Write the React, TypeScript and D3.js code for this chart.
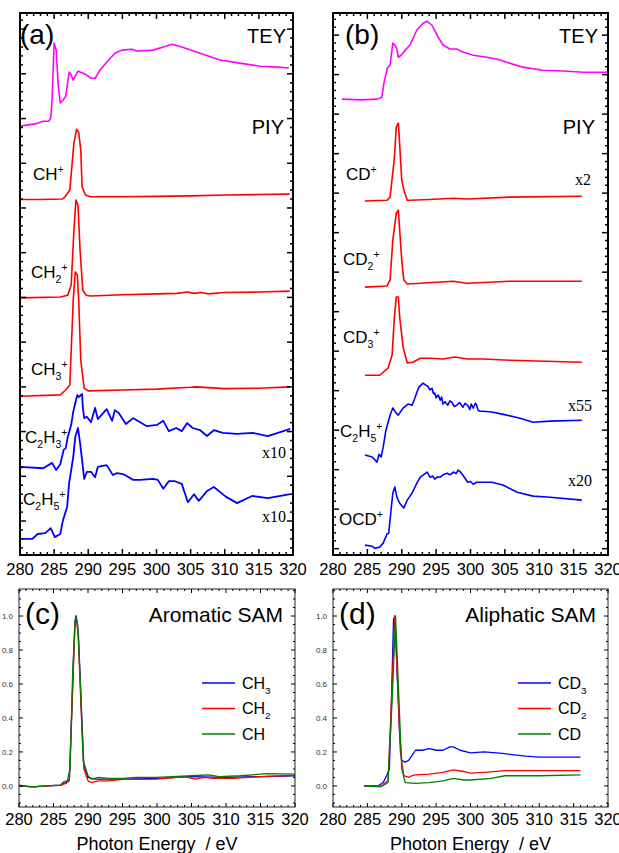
import React from 'react';
import * as d3 from 'd3';

type Pt = [number, number];

// photon energy (eV) vs. stacked intensity (arb. units, offset per trace)
const energyTicks = [280, 285, 290, 295, 300, 305, 310, 315, 320];

// ---- panel (a) ----
const teyA: Pt[] = [
  [280, 8.83], [282.2, 8.88], [283.4, 8.94], [284.2, 8.94], [284.5, 9.01], [284.7, 9.41], [285.0, 10.69],
  [285.3, 10.53], [285.6, 9.75], [285.9, 9.35], [286.3, 9.41], [286.7, 9.5], [287.2, 10.04], [287.5, 9.97],
  [287.8, 9.86], [288.1, 9.95], [288.5, 10.06], [289.2, 10.02], [289.8, 9.97], [290.4, 9.9], [291.0, 9.9],
  [291.7, 10.08], [292.7, 10.26], [293.9, 10.46], [294.9, 10.53], [296.4, 10.55], [297.1, 10.51],
  [299.5, 10.53], [301.0, 10.6], [302.3, 10.66], [303.7, 10.6], [306.4, 10.46], [309.3, 10.31],
  [312.2, 10.24], [315.2, 10.17], [317.7, 10.15], [319.4, 10.13],
];
const chA: Pt[] = [
  [280, 7.19], [283, 7.19], [286.2, 7.2], [286.6, 7.25], [287.3, 7.4], [287.9, 8.45], [288.3, 8.76],
  [288.6, 8.69], [288.9, 8.3], [289.1, 7.47], [289.6, 7.29], [290.3, 7.25], [295, 7.25], [300, 7.26],
  [305, 7.27], [310, 7.29], [315, 7.3], [319.5, 7.31],
];
const ch2A: Pt[] = [
  [280, 4.99], [285.9, 5.01], [287.0, 5.05], [287.5, 5.28], [287.9, 6.5], [288.2, 7.18], [288.5, 7.06],
  [288.8, 6.06], [289.2, 5.16], [289.7, 5.05], [290.3, 5.03], [295, 5.06], [300, 5.08], [303, 5.09],
  [304.5, 5.12], [305.5, 5.09], [306.5, 5.11], [307.5, 5.08], [310, 5.11], [315, 5.12], [319.5, 5.14],
];
const ch3A: Pt[] = [
  [280, 2.79], [285.9, 2.82], [286.7, 2.93], [287.3, 3.04], [287.8, 4.94], [288.1, 5.57], [288.4, 5.5],
  [288.6, 4.94], [288.9, 3.6], [289.4, 2.97], [290.0, 2.91], [295, 2.93], [300, 2.95], [305, 2.99],
  [305.8, 3.0], [310, 2.96], [315, 2.97], [319.5, 3.0],
];
const c2h3A: Pt[] = [
  [280, 1.21], [283.4, 1.18], [284.7, 1.3], [285.3, 1.14], [285.9, 1.27], [286.4, 1.59], [286.7, 1.63],
  [287.0, 1.88], [287.5, 2.15], [287.8, 2.44], [288.1, 2.64], [288.4, 2.82], [288.6, 2.77], [289.1, 2.84],
  [289.2, 2.55], [289.4, 2.3], [289.8, 2.33], [290.4, 2.21], [291.0, 2.53], [291.4, 2.28], [292.7, 2.5],
  [293.5, 2.24], [293.9, 2.48], [294.5, 2.41], [295.5, 2.17], [296.6, 2.3], [298.6, 2.12], [300.1, 2.15],
  [301.0, 2.24], [301.8, 2.01], [302.9, 2.08], [303.7, 2.01], [304.5, 2.19], [305.3, 2.08], [306.4, 2.03],
  [307.4, 1.9], [308.4, 2.03], [309.7, 1.97], [311.8, 1.95], [314.1, 1.97], [316.3, 1.9], [319.6, 2.06],
];
const c2h5A: Pt[] = [
  [280, -0.4], [281.8, -0.4], [282.6, -0.29], [283.7, -0.27], [284.5, -0.16], [285.1, -0.36], [285.9, -0.29],
  [286.3, 0.02], [286.9, 0.31], [287.2, 0.85], [287.8, 1.43], [288.1, 1.88], [288.5, 2.08], [288.8, 1.74],
  [289.1, 1.36], [289.4, 0.94], [289.8, 1.1], [290.4, 1.1], [291.0, 0.98], [291.4, 1.21], [292.7, 1.25],
  [293.6, 1.03], [294.2, 1.07], [295.1, 1.05], [296.6, 0.92], [297.6, 0.92], [299.5, 0.94], [300.2, 0.92],
  [301.0, 0.72], [301.8, 0.89], [302.7, 0.89], [303.7, 0.83], [304.6, 0.42], [305.5, 0.6], [306.2, 0.45],
  [307.4, 0.67], [308.4, 0.76], [310.2, 0.54], [311.8, 0.4], [314.0, 0.56], [316.3, 0.51], [319.6, 0.6],
];

// ---- panel (b) ----
const teyB: Pt[] = [
  [281.3, 10.38], [284, 10.36], [286.4, 10.38], [287.1, 10.43], [287.4, 10.78], [287.9, 11.16], [288.3, 11.24],
  [288.7, 11.8], [289.2, 11.7], [289.5, 11.44], [289.9, 11.49], [290.5, 11.62], [291.2, 11.75], [292.2, 12.13],
  [293.1, 12.3], [293.7, 12.35], [294.4, 12.25], [295.3, 11.95], [296.0, 11.75], [297.0, 11.65], [298.0, 11.65],
  [298.9, 11.57], [300.4, 11.49], [302.4, 11.44], [303.9, 11.39], [305.7, 11.29], [307.6, 11.19],
  [310.5, 11.11], [313.5, 11.09], [316.4, 11.06], [320, 11.06],
];
const cdB: Pt[] = [
  [284.65, 7.8], [287.85, 7.82], [288.3, 7.9], [288.9, 8.84], [289.2, 9.67], [289.5, 9.77], [289.6, 9.52],
  [290.0, 8.33], [290.3, 8.08], [290.8, 7.82], [291.2, 7.82], [294, 7.84], [297.5, 7.87], [299.5, 7.85],
  [305.7, 7.9], [316.2, 7.92],
];
const cd2B: Pt[] = [
  [284.65, 5.62], [287.85, 5.65], [288.3, 5.8], [288.7, 6.81], [289.2, 7.49], [289.5, 7.57], [289.6, 7.32],
  [290.0, 6.3], [290.3, 5.8], [290.8, 5.7], [292.7, 5.72], [297.5, 5.77], [299.5, 5.72], [305.7, 5.77],
  [316.2, 5.77],
];
const cd3B: Pt[] = [
  [284.65, 3.39], [286.8, 3.39], [288.0, 3.57], [288.6, 3.9], [288.9, 4.78], [289.2, 5.37], [289.5, 5.37],
  [289.7, 4.86], [290.2, 4.1], [290.8, 3.7], [291.6, 3.72], [292.7, 3.82], [294.1, 3.82], [296.0, 3.8],
  [297.7, 3.85], [299.5, 3.8], [301.8, 3.8], [305.7, 3.77], [316.2, 3.72],
];
const c2h5B: Pt[] = [
  [284.65, 1.37], [285.7, 1.32], [286.4, 1.19], [286.7, 1.39], [287.0, 1.32], [287.3, 1.57], [287.7, 2.0],
  [288.1, 2.25], [288.4, 2.43], [288.7, 2.56], [289.2, 2.43], [289.5, 2.38], [290.2, 2.56], [290.9, 2.66],
  [291.5, 2.63], [291.9, 2.81], [292.2, 2.96], [292.5, 3.09], [293.1, 3.19], [293.5, 3.14], [293.8, 3.11],
  [294.1, 3.02], [294.4, 3.06], [294.6, 2.93], [294.8, 2.94], [295.0, 2.82], [295.3, 2.89], [295.6, 2.76],
  [295.8, 2.84], [296.0, 2.66], [296.3, 2.72], [296.7, 2.63], [297.0, 2.74], [297.3, 2.71], [297.6, 2.6],
  [298.0, 2.63], [298.4, 2.7], [298.9, 2.58], [299.2, 2.68], [299.6, 2.63], [299.9, 2.52], [300.1, 2.66],
  [300.4, 2.56], [300.7, 2.68], [300.9, 2.63], [301.1, 2.5], [301.4, 2.48], [301.8, 2.48], [303.1, 2.46],
  [305.3, 2.38], [307.2, 2.3], [309.1, 2.2], [311.6, 2.23], [316.2, 2.25],
];
const ocdB: Pt[] = [
  [284.65, -0.91], [285.7, -0.94], [286.1, -0.99], [286.8, -0.96], [287.3, -0.86], [287.85, -0.63],
  [288.1, -0.61], [288.4, -0.1], [288.7, 0.41], [289.0, 0.56], [289.3, 0.3], [289.7, 0.15], [290.3, 0.03],
  [290.8, 0.23], [291.5, 0.41], [292.2, 0.66], [292.7, 0.81], [293.1, 0.86], [293.7, 0.94], [294.1, 0.81],
  [294.5, 0.84], [294.8, 0.76], [295.2, 0.82], [295.6, 0.81], [296.1, 0.88], [296.6, 0.91], [297.0, 0.87],
  [297.5, 0.94], [297.9, 0.9], [298.2, 0.99], [298.6, 0.93], [298.9, 0.86], [299.6, 0.68], [300.0, 0.7],
  [300.4, 0.63], [300.9, 0.68], [303.1, 0.68], [304.7, 0.61], [306.8, 0.43], [309.1, 0.33], [311.6, 0.3],
  [316.2, 0.23],
];

// ---- panel (c): normalised PIY, aromatic SAM ----
const aroCH3: Pt[] = [
  [280, 0.0], [282, -0.005], [284, 0.0], [286, 0.005], [286.8, 0.02], [287.3, 0.04], [287.7, 0.5],
  [288.1, 0.97], [288.3, 1.0], [288.6, 0.9], [289.0, 0.5], [289.4, 0.12], [290, 0.05], [291, 0.04],
  [293, 0.04], [295, 0.04], [300, 0.045], [305, 0.055], [310, 0.05], [315, 0.055], [320, 0.06],
];
const aroCH2: Pt[] = [
  [280, 0.005], [282, -0.005], [284, 0.0], [286, 0.003], [286.8, 0.015], [287.3, 0.03], [287.7, 0.48],
  [288.1, 0.95], [288.3, 0.99], [288.6, 0.88], [289.0, 0.45], [289.4, 0.1], [290, 0.03], [290.5, 0.02],
  [291.5, 0.03], [293, 0.03], [295, 0.038], [300, 0.04], [304, 0.055], [305.5, 0.04], [307, 0.05],
  [308, 0.045], [311, 0.045], [315, 0.055], [320, 0.062],
];
const aroCH: Pt[] = [
  [280, 0.0], [282, -0.005], [284, 0.0], [286, 0.005], [286.5, 0.025], [287, 0.03], [287.4, 0.1],
  [287.8, 0.7], [288.2, 1.0], [288.5, 0.95], [288.9, 0.6], [289.3, 0.15], [290, 0.06], [290.5, 0.04],
  [291.5, 0.05], [293, 0.045], [295, 0.045], [297, 0.05], [300, 0.05], [305, 0.06], [307.5, 0.065],
  [309, 0.055], [312, 0.06], [316, 0.072], [320, 0.07],
];

// ---- panel (d): normalised PIY, aliphatic SAM ----
const aliCD3: Pt[] = [
  [284.5, 0.0], [286.5, 0.0], [287.3, 0.02], [287.8, 0.06], [288.2, 0.1], [288.5, 0.5], [288.8, 0.98],
  [289.0, 1.0], [289.3, 0.7], [289.7, 0.3], [290.0, 0.15], [290.5, 0.14], [291, 0.15], [291.5, 0.18],
  [292, 0.21], [293, 0.21], [294, 0.22], [295, 0.21], [296, 0.21], [297, 0.23], [297.5, 0.23],
  [298.5, 0.21], [300, 0.195], [302, 0.2], [305, 0.19], [308, 0.175], [310, 0.17], [316, 0.17],
];
const aliCD2: Pt[] = [
  [284.5, 0.0], [287, 0.0], [288, 0.03], [288.5, 0.5], [289.0, 1.0], [289.4, 0.6], [289.8, 0.2],
  [290.3, 0.06], [291, 0.05], [291.5, 0.06], [292, 0.065], [294, 0.07], [296, 0.08], [297.5, 0.095],
  [299, 0.085], [300, 0.075], [302, 0.08], [305, 0.09], [310, 0.09], [316, 0.09],
];
const aliCD: Pt[] = [
  [284.5, 0.0], [287, -0.005], [288, 0.02], [288.6, 0.5], [289.1, 1.0], [289.5, 0.6], [290.0, 0.1],
  [290.5, 0.02], [292, 0.015], [294, 0.02], [296, 0.03], [297.5, 0.045], [299, 0.035], [300, 0.035],
  [303, 0.045], [305, 0.06], [310, 0.06], [316, 0.065],
];

const SANS = '"Liberation Sans", Arial, sans-serif';
const SERIF = '"Liberation Serif", "Times New Roman", serif';

type Part = [string, 'n' | 'sub' | 'sup'];

// chemical label with sub/superscripts
function Chem({ x, y, parts, size = 17 }: { x: number; y: number; parts: Part[]; size?: number }) {
  let cur = 0;
  return (
    <text x={x} y={y} fontFamily={SANS} fontSize={size} fill="#000">
      {parts.map(([t, k], i) => {
        const target = k === 'sub' ? size * 0.3 : k === 'sup' ? -size * 0.42 : 0;
        const dy = target - cur;
        cur = target;
        return (
          <tspan key={i} dy={dy} fontSize={k === 'n' ? size : size * 0.62}>{t}</tspan>
        );
      })}
    </text>
  );
}

function Ticks({ x, y, xMajor, xMinor, yMajor, yMinor, big, small, width }: any) {
  const [l, r] = x.range();
  const [b, t] = y.range();
  const out: any[] = [];
  const add = (key: string, x1: number, y1: number, x2: number, y2: number) =>
    out.push(<line key={key} x1={x1} y1={y1} x2={x2} y2={y2} stroke="#000" strokeWidth={width} />);
  xMajor.concat(xMinor).forEach((v: number, i: number) => {
    const len = i < xMajor.length ? big : small;
    add('xb' + i, x(v), b, x(v), b - len);
    add('xt' + i, x(v), t, x(v), t + len);
  });
  yMajor.concat(yMinor).forEach((v: number, i: number) => {
    const len = i < yMajor.length ? big : small;
    add('yl' + i, l, y(v), l + len, y(v));
    add('yr' + i, r, y(v), r - len, y(v));
  });
  return <g>{out}</g>;
}

function StackPanel({ left, right, top, bottom, yDomain, curves, children }: any) {
  const x = d3.scaleLinear().domain([280, 320]).range([left, right]);
  const y = d3.scaleLinear().domain(yDomain).range([bottom, top]);
  const line = d3.line<Pt>().x(d => x(d[0])).y(d => y(d[1]));
  const xMinor = d3.range(280, 321).filter(v => v % 5 !== 0);
  const yMajor = d3.range(Math.ceil(yDomain[0]), Math.floor(yDomain[1]) + 1);
  const yMinor = d3.range(Math.ceil(yDomain[0] * 5), Math.floor(yDomain[1] * 5) + 1)
    .filter(i => i % 5 !== 0).map(i => i / 5);
  return (
    <g>
      {curves.map((c: any, i: number) => (
        <path key={i} d={line(c.data) ?? ''} fill="none" stroke={c.color} strokeWidth={c.w ?? 1.6}
          strokeLinejoin="round" />
      ))}
      <rect x={left} y={top} width={right - left} height={bottom - top} fill="none" stroke="#000" strokeWidth={2} />
      <Ticks x={x} y={y} xMajor={energyTicks} xMinor={xMinor} yMajor={yMajor} yMinor={yMinor}
        big={6} small={3} width={1.5} />
      {energyTicks.map(v => (
        <text key={v} x={x(v)} y={bottom + 20} textAnchor="middle" fontFamily={SANS} fontSize={16.5}>{v}</text>
      ))}
      {children}
    </g>
  );
}

function NormPanel({ left, right, top, bottom, curves, legend, lx, title, tag }: any) {
  const x = d3.scaleLinear().domain([280, 320]).range([left, right]);
  const y = d3.scaleLinear().domain([-0.124, 1.159]).range([bottom, top]);
  const line = d3.line<Pt>().x(d => x(d[0])).y(d => y(d[1]));
  const xMinor = d3.range(280, 321).filter(v => v % 5 !== 0);
  const yMajor = [0, 0.2, 0.4, 0.6, 0.8, 1.0];
  const yMinor = d3.range(-2, 24).filter(i => i % 4 !== 0).map(i => i * 0.05);
  return (
    <g>
      {curves.map((c: any, i: number) => (
        <path key={i} d={line(c.data) ?? ''} fill="none" stroke={c.color} strokeWidth={1.3}
          strokeLinejoin="round" />
      ))}
      <rect x={left} y={top} width={right - left} height={bottom - top} fill="none" stroke="#222" strokeWidth={1} />
      <Ticks x={x} y={y} xMajor={energyTicks} xMinor={xMinor} yMajor={yMajor} yMinor={yMinor}
        big={4} small={2} width={1} />
      {energyTicks.map(v => (
        <text key={v} x={x(v)} y={bottom + 18} textAnchor="middle" fontFamily={SANS} fontSize={16.5}>{v}</text>
      ))}
      {yMajor.map(v => (
        <text key={v} x={left - 6} y={y(v) + 3} textAnchor="end" fontFamily={SANS} fontSize={8} fill="#333">
          {v.toFixed(1)}
        </text>
      ))}
      {legend.map((c: any, i: number) => {
        const ly = y(0.6) - 1 + i * 25.5;
        return (
          <g key={i}>
            <line x1={lx} x2={lx + 33} y1={ly} y2={ly} stroke={c.color} strokeWidth={1.3} />
            <Chem x={lx + 40} y={ly + 6} parts={c.label} size={16} />
          </g>
        );
      })}
      <text x={left + 6} y={top + 35} fontFamily={SANS} fontSize={30}>{tag}</text>
      <text x={right - 12} y={top + 33} textAnchor="end" fontFamily={SANS} fontSize={21}>{title}</text>
      <text x={(left + right) / 2} y={bottom + 43} textAnchor="middle" fontFamily={SANS} fontSize={18}>
        {'Photon Energy\u00a0\u00a0/ eV'}
      </text>
    </g>
  );
}

const MAG = '#ff00ff';
const RED = '#ff0000';
const BLUE = '#0000ff';
const GREEN = '#008000';

export default function App() {
  return (
    <svg width={619} height={853} style={{ position: 'absolute', left: 0, top: 0, background: '#fff' }}>
      <StackPanel left={20} right={293} top={13} bottom={555} yDomain={[-0.76, 11.36]}
        curves={[
          { data: teyA, color: MAG }, { data: chA, color: RED }, { data: ch2A, color: RED },
          { data: ch3A, color: RED }, { data: c2h3A, color: BLUE, w: 1.8 }, { data: c2h5A, color: BLUE, w: 1.8 },
        ]}>
        <text x={20} y={44} fontFamily={SANS} fontSize={28}>(a)</text>
        <text x={286} y={43} textAnchor="end" fontFamily={SANS} fontSize={20}>TEY</text>
        <text x={284} y={134} textAnchor="end" fontFamily={SANS} fontSize={20}>PIY</text>
        <Chem x={33} y={180} parts={[['CH', 'n'], ['+', 'sup']]} />
        <Chem x={31} y={278} parts={[['CH', 'n'], ['2', 'sub'], ['+', 'sup']]} />
        <Chem x={31} y={375} parts={[['CH', 'n'], ['3', 'sub'], ['+', 'sup']]} />
        <Chem x={25} y={443} parts={[['C', 'n'], ['2', 'sub'], ['H', 'n'], ['3', 'sub'], ['+', 'sup']]} />
        <Chem x={23} y={505} parts={[['C', 'n'], ['2', 'sub'], ['H', 'n'], ['5', 'sub'], ['+', 'sup']]} />
        <text x={286} y={458} textAnchor="end" fontFamily={SERIF} fontSize={16}>x10</text>
        <text x={286} y={522} textAnchor="end" fontFamily={SERIF} fontSize={16}>x10</text>
      </StackPanel>
      <StackPanel left={333} right={608} top={13} bottom={555} yDomain={[-1.16, 12.56]}
        curves={[
          { data: teyB, color: MAG }, { data: cdB, color: RED }, { data: cd2B, color: RED },
          { data: cd3B, color: RED }, { data: c2h5B, color: BLUE, w: 1.6 }, { data: ocdB, color: BLUE, w: 1.6 },
        ]}>
        <text x={345} y={44} fontFamily={SANS} fontSize={28}>(b)</text>
        <text x={598} y={43} textAnchor="end" fontFamily={SANS} fontSize={20}>TEY</text>
        <text x={595} y={134} textAnchor="end" fontFamily={SANS} fontSize={20}>PIY</text>
        <Chem x={346} y={180} parts={[['CD', 'n'], ['+', 'sup']]} />
        <Chem x={343} y={265} parts={[['CD', 'n'], ['2', 'sub'], ['+', 'sup']]} />
        <Chem x={343} y={343} parts={[['CD', 'n'], ['3', 'sub'], ['+', 'sup']]} />
        <Chem x={340} y={437} parts={[['C', 'n'], ['2', 'sub'], ['H', 'n'], ['5', 'sub'], ['+', 'sup']]} />
        <Chem x={339} y={525} parts={[['OCD', 'n'], ['+', 'sup']]} />
        <text x={591} y={185} textAnchor="end" fontFamily={SERIF} fontSize={16}>x2</text>
        <text x={592} y={411} textAnchor="end" fontFamily={SERIF} fontSize={16}>x55</text>
        <text x={592} y={486} textAnchor="end" fontFamily={SERIF} fontSize={16}>x20</text>
      </StackPanel>
      <NormPanel left={19} right={295} top={589} bottom={807} lx={202} tag="(c)" title="Aromatic SAM"
        curves={[{ data: aroCH3, color: BLUE }, { data: aroCH2, color: RED }, { data: aroCH, color: GREEN }]}
        legend={[
          { color: BLUE, label: [['CH', 'n'], ['3', 'sub']] },
          { color: RED, label: [['CH', 'n'], ['2', 'sub']] },
          { color: GREEN, label: [['CH', 'n']] },
        ]} />
      <NormPanel left={333} right={608} top={589} bottom={807} lx={518} tag="(d)" title="Aliphatic SAM"
        curves={[{ data: aliCD3, color: BLUE }, { data: aliCD2, color: RED }, { data: aliCD, color: GREEN }]}
        legend={[
          { color: BLUE, label: [['CD', 'n'], ['3', 'sub']] },
          { color: RED, label: [['CD', 'n'], ['2', 'sub']] },
          { color: GREEN, label: [['CD', 'n']] },
        ]} />
    </svg>
  );
}
